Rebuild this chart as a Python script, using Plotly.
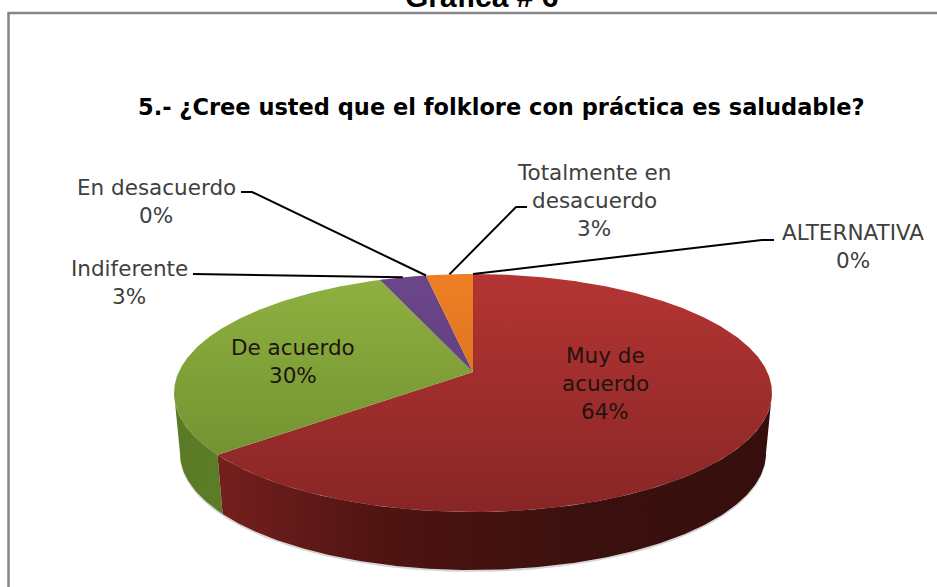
import numpy as np
import plotly.graph_objects as go

# clockwise from 12 o'clock, same order as the source pie
categories = ["ALTERNATIVA", "Muy de acuerdo", "De acuerdo", "Indiferente", "En desacuerdo", "Totalmente en desacuerdo"]
values = [0, 64, 30, 3, 0, 3]

W, H = 937, 587

# perspective of the tilted pie, in pixels
CX, CY = 473, 372
A, B, P = 294.3, 115.3, 0.1765
BOTTOM_SCALE, BOTTOM_CY = 0.98, 432.8
WALL_FROM, WALL_TO = 100, 260  # visible part of the side, degrees

top_colors = {
    "Muy de acuerdo": ("#b43533", "#882625"),
    "De acuerdo": ("#8fb140", "#6a8a2c"),
    "Indiferente": ("#6b4689", "#5a3a78"),
    "Totalmente en desacuerdo": ("#ee7f24", "#c86a1c"),
}
wall_colors = {
    "Muy de acuerdo": ["#7e2221", "#4e1412", "#3a100e", "#360f0d"],
    "De acuerdo": ["#5a7a26", "#66882c", "#66882c", "#66882c"],
}

# where the text goes: line centres and leader elbows
label_pos = {
    "ALTERNATIVA": dict(lines=["ALTERNATIVA", "0%"], x=853, y=232, leader=[(774, 240), (762, 240)]),
    "Muy de acuerdo": dict(lines=["Muy de", "acuerdo", "64%"], x=605, y=355, leader=None),
    "De acuerdo": dict(lines=["De acuerdo", "30%"], x=293, y=347, leader=None),
    "Indiferente": dict(lines=["Indiferente", "3%"], x=129, y=268, leader=[(193, 274)]),
    "En desacuerdo": dict(lines=["En desacuerdo", "0%"], x=156, y=187, leader=[(241, 192), (252, 192)]),
    "Totalmente en desacuerdo": dict(lines=["Totalmente en", "desacuerdo", "3%"], x=594, y=172, leader=[(527, 207), (516, 207)]),
}
LINE_PITCH = 28


def project(deg, bottom=False):
    t = np.radians(deg)
    u, v = np.sin(t), -np.cos(t)
    w = 1 - P * v
    x, y = A * u / w, B * v / w
    if bottom:
        return CX + BOTTOM_SCALE * x, BOTTOM_CY + BOTTOM_SCALE * y
    return CX + x, CY + y


def arc(a, b, bottom=False):
    return project(np.linspace(a, b, max(int(abs(b - a)) * 2, 2) + 1), bottom)


fig = go.Figure()

edges = np.cumsum([0] + values) / sum(values) * 360

# soft shadow under the side
sx, sy = arc(WALL_FROM, WALL_TO, True)
fig.add_trace(go.Scatter(x=sx, y=sy + 2, fill="toself", mode="lines", line=dict(width=0),
                         fillcolor="rgba(90,90,90,0.25)", hoverinfo="skip"))

# side walls first, the top covers whatever sticks out behind
for name, a, b in zip(categories, edges[:-1], edges[1:]):
    lo, hi = max(a, WALL_FROM), min(b, WALL_TO)
    if name not in wall_colors or lo >= hi:
        continue
    tx, ty = arc(lo, hi)
    bx, by = arc(lo, hi, True)
    c = wall_colors[name]
    fig.add_trace(go.Scatter(
        x=np.r_[tx, bx[::-1]], y=np.r_[ty, by[::-1]], fill="toself", mode="lines", line=dict(width=0),
        fillgradient=dict(type="horizontal", start=180, stop=765,
                          colorscale=[[0, c[0]], [0.35, c[1]], [0.7, c[2]], [1, c[3]]]),
        hoverinfo="skip"))

# top of the pie
for name, a, b in zip(categories, edges[:-1], edges[1:]):
    if b - a <= 0:
        continue
    ax, ay = arc(a, b)
    c = top_colors[name]
    fig.add_trace(go.Scatter(
        x=np.r_[CX, ax, CX], y=np.r_[CY, ay, CY], fill="toself", mode="lines", line=dict(width=0),
        fillgradient=dict(type="vertical", start=274, stop=512, colorscale=[[0, c[0]], [1, c[1]]]),
        hoverinfo="skip"))

# leader lines and labels
for name, a, b in zip(categories, edges[:-1], edges[1:]):
    pos = label_pos[name]
    if pos["leader"]:
        ex, ey = project((a + b) / 2 if b > a else a)
        pts = pos["leader"] + [(float(ex), float(ey))]
        fig.add_trace(go.Scatter(x=[p[0] for p in pts], y=[p[1] for p in pts], mode="lines",
                                 line=dict(color="#000000", width=2), hoverinfo="skip"))
    color = "#404040" if pos["leader"] else "#1e1410"
    for i, line in enumerate(pos["lines"]):
        fig.add_annotation(x=pos["x"], y=pos["y"] + i * LINE_PITCH, text=line, showarrow=False,
                           xanchor="center", yanchor="middle",
                           font=dict(family="DejaVu Sans", size=21.5, color=color))

fig.add_annotation(x=501, y=107, text="<b>5.- ¿Cree usted que el folklore con práctica es saludable?</b>", showarrow=False,
                   font=dict(family="DejaVu Sans", size=22.5, color="#000000"), xanchor="center", yanchor="middle")
# cut off by the top of the page, like the source scan
fig.add_annotation(x=481, xref="x", y=1, yref="paper", yshift=4, text="<b>Gráfica # 6</b>", showarrow=False,
                   font=dict(family="Liberation Sans", size=30, color="#000000"), xanchor="center", yanchor="middle")

fig.add_shape(type="rect", x0=8.5, y0=13, x1=W + 20, y1=H + 20, line=dict(color="#868686", width=2.5), layer="below")

fig.update_xaxes(range=[0, W], visible=False, fixedrange=True)
fig.update_yaxes(range=[H, 0], visible=False, fixedrange=True)
fig.update_layout(width=W, height=H, margin=dict(l=0, r=0, t=0, b=0), showlegend=False,
                  paper_bgcolor="white", plot_bgcolor="white")

# the page's default body margin would shift everything by 8px
fig.write_html("out.html", config=dict(displayModeBar=False),
               post_script="document.body.style.margin='0';document.body.style.overflow='hidden';")
